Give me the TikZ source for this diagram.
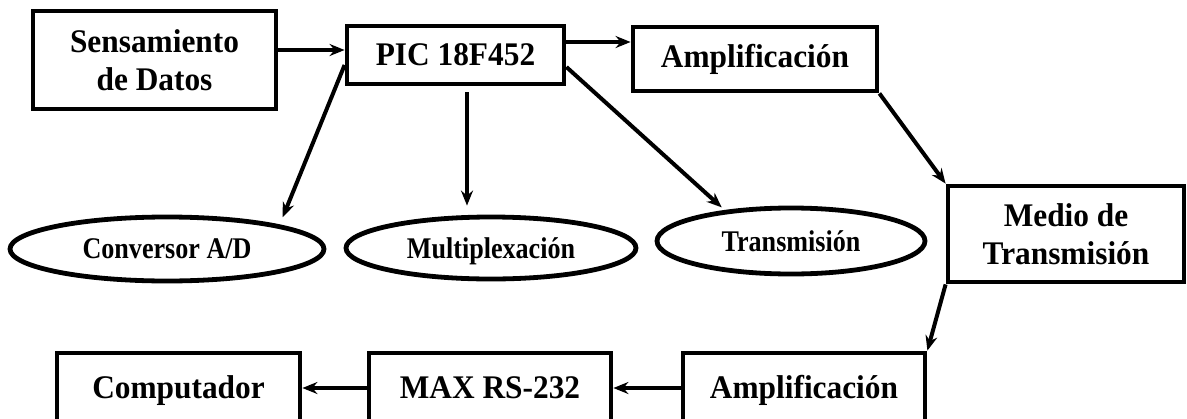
\documentclass[tikz,border=0pt]{standalone}
\usepackage{fontspec}
\setmainfont{Liberation Serif}
\newfontfamily\boxfont[FakeStretch=0.95]{Liberation Serif}
\newfontfamily\ovalfont[FakeStretch=0.87]{Liberation Serif}
\usetikzlibrary{arrows.meta,shapes.geometric}

\begin{document}
\begin{tikzpicture}[x=1pt,y=-1pt]
        \tikzset{
            mybox/.style = {rectangle, line width=4.8pt, inner sep=0pt, align=center, draw=black, fill=white, font=\boxfont\fontsize{33}{38}\selectfont\bfseries},
            mylowbox/.style = {mybox, text height=23pt, text depth=3pt, minimum height=70pt},
            myoval/.style = {ellipse, line width=4.8pt, inner sep=0pt, text depth=0pt, align=center, draw=black, fill=white, font=\ovalfont\fontsize{30}{34}\selectfont\bfseries},
            arrow/.style = {line width=4pt,-{Stealth[length=15pt,width=12pt,inset=5pt]}}
        }
        \useasboundingbox (0,0) rectangle (1187,418);

        % upper row
        \node (sens) [mybox, minimum width=243pt, minimum height=98pt] at (154.5,60) {Sensamiento\\de Datos};
        \node (pic) [mybox, minimum width=217pt, minimum height=58pt] at (455.5,55) {PIC 18F452};
        \node (amp1) [mybox, minimum width=244pt, minimum height=64pt] at (755,59) {Amplificación};

        % tasks of the PIC
        \node (conv) [myoval, minimum width=314pt, minimum height=64pt] at (167,249) {Conversor A/D};
        \node (mux) [myoval, minimum width=290pt, minimum height=62pt] at (491,248) {Multiplexación};
        \node (trans) [myoval, minimum width=268pt, minimum height=66pt] at (791,241) {Transmisión};

        \node (medio) [mybox, minimum width=236pt, minimum height=96pt] at (1066,234) {Medio de\\Transmisión};

        % lower row
        \node (amp2) [mylowbox, minimum width=242pt] at (804,388) {Amplificación};
        \node (max) [mylowbox, minimum width=242pt] at (490,388) {MAX RS-232};
        \node (comp) [mylowbox, minimum width=243pt] at (178.5,388) {Computador};

        \draw [arrow] ([yshift=5pt]sens.east |- pic.west) -- ([yshift=5pt]pic.west);
        \draw [arrow] ([yshift=13pt]pic.east) -- ([yshift=13pt]pic.east -| amp1.west);
        \draw [arrow, shorten >=8pt] ([yshift=-10pt]pic.west) -- (conv.north east);
        \draw [arrow, shorten <=6pt, shorten >=9pt] ([xshift=11.5pt]pic.south) -- ([xshift=11.5pt]pic.south |- mux.north);
        \draw [arrow, shorten >=4pt] ([yshift=-12pt]pic.east) -- (trans.155);
        \draw [arrow] (amp1.south east) -- (medio.north west);
        \draw [arrow] (medio.south west) -- (amp2.north east);
        \draw [arrow] (amp2) -- (max);
        \draw [arrow] (max) -- (comp);

    \end{tikzpicture}
\end{document}
